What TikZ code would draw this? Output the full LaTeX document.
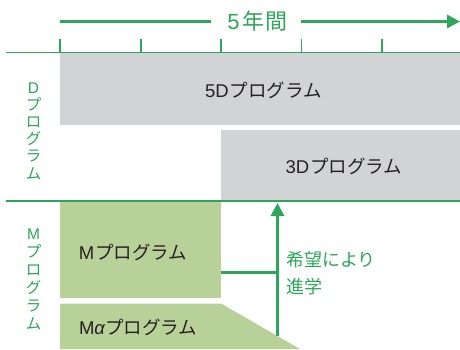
\documentclass[tikz,border=0pt]{standalone}
\usepackage{fontspec}
\setmainfont{Noto Sans CJK JP}
\newfontfamily\lat{Liberation Sans}
\usetikzlibrary{arrows.meta}
\definecolor{grn}{HTML}{2DA55A}
\definecolor{gbox}{HTML}{D1D3D4}
\definecolor{lgbox}{HTML}{B8D198}
\definecolor{txt}{HTML}{262223}
\tikzset{
  boxtxt/.style={text=txt, font=\fontsize{18.5}{20}\selectfont, inner sep=0pt},
  vlabel/.style={text=grn, align=center, inner sep=0pt},
  axis/.style={draw=grn, line width=1.3pt},
  thickarrow/.style={draw=grn, line width=3pt, -{Triangle[length=13pt,width=13pt]}},
  thickline/.style={draw=grn, line width=3pt},
  area/.style={inner sep=0pt, outer sep=0pt, anchor=north west}
}
\begin{document}
\begin{tikzpicture}[x=1pt,y=-1pt]
\useasboundingbox (0,0) rectangle (460,349);
% boxes
\node[area, fill=gbox, minimum width=400pt, minimum height=71.5pt] (d5) at (60,53) {};
\node[area, fill=gbox, minimum width=239pt, minimum height=71pt] (d3) at (221,130) {};
\node[area, fill=lgbox, minimum width=161pt, minimum height=96pt] (mbox) at (60,202) {};
\fill[lgbox] (60,303.5) -- (221,303.5) -- (300,349) -- (60,349) -- cycle;
% box texts
\node[boxtxt] (t5d) at (263.5,90) {{\lat 5D}\kern1pt プログラム};
\node[boxtxt] (t3d) at (344,166) {{\lat 3D}\kern1pt プログラム};
\node[boxtxt] (tm) at (133,252) {{\lat M}\kern1pt プログラム};
\node[boxtxt] (tma) at (138,327) {{\lat M\itshape α}プログラム};
% axes
\coordinate (axl) at (6,52.7);
\coordinate (axr) at (460,52.7);
\draw[axis] (axl) -- (axr);
\foreach \x in {60,141,221,301.5,382}{
  \draw[axis] (\x,39) -- (\x,53.3);
}
\coordinate (mxl) at (6,201);
\coordinate (mxr) at (460,201);
\draw[axis] (mxl) -- (mxr);
% top arrow
\node[text=grn, font=\fontsize{22}{24}\selectfont, inner sep=0pt] (yrs) at (257.5,21.5) {{\lat 5}\kern3pt 年\kern1pt 間};
\coordinate (tal) at (60,21.5);
\coordinate (tar) at (460,21.5);
\draw[thickline] (tal) -- (211,21.5);
\draw[thickarrow] (301,21.5) -- (tar);
% advance arrow
\coordinate (abot) at (277.5,336);
\coordinate (atop) at (277.5,203);
\coordinate (abr) at (277.5,272);
\draw[thickarrow] (abot) -- (atop);
\draw[thickline] (mbox.east |- abr) -- (abr);
\node[text=grn, font=\fontsize{18}{27}\selectfont, align=left, anchor=west, inner sep=0pt] (adv) at (286,273.5) {希望により\\進学};
% left labels
\node[vlabel, font=\fontsize{15.5}{17.2}\selectfont] (dl) at (33.5,131) {{\lat D}\\プ\\ロ\\グ\\ラ\\ム};
\node[vlabel, font=\fontsize{15.5}{18}\selectfont] (ml) at (33.5,279) {{\lat M}\\プ\\ロ\\グ\\ラ\\ム};
\end{tikzpicture}
\end{document}
